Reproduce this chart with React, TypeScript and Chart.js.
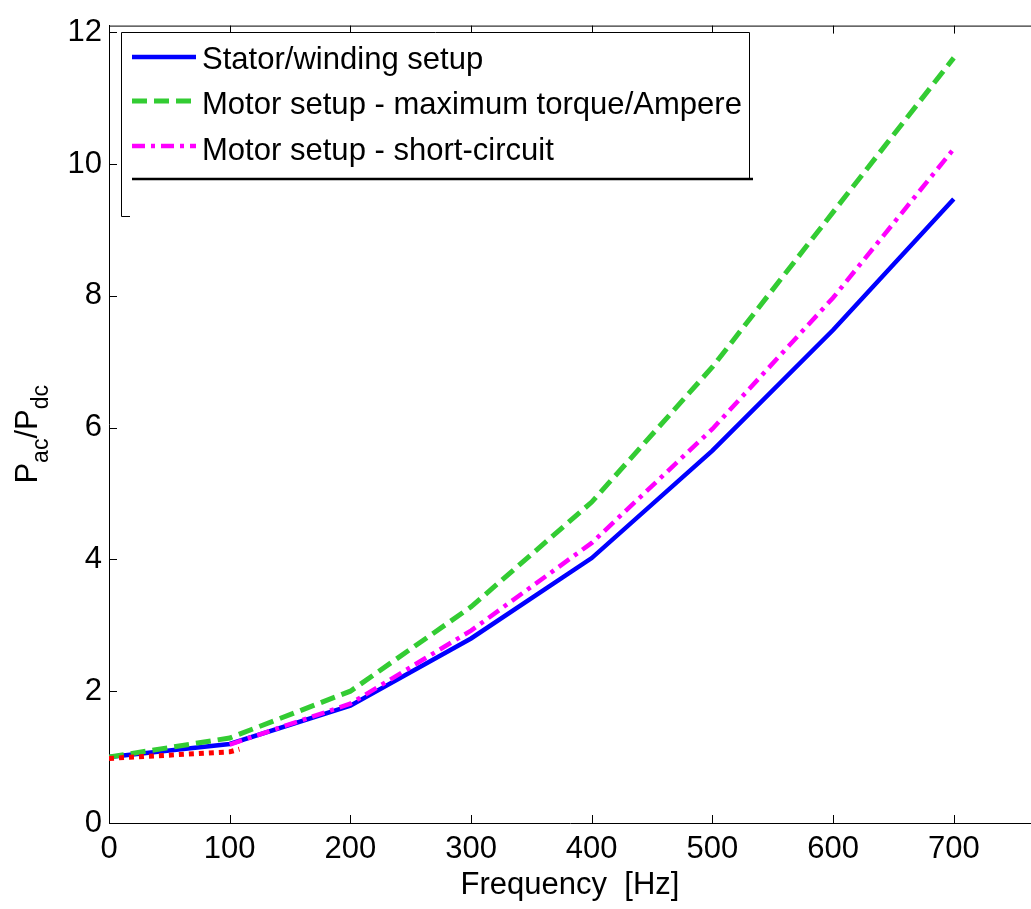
import React, { useEffect, useRef } from "react";
import { Chart, registerables } from "chart.js";

Chart.register(...registerables);

// ---- data ----
const frequencies = [0, 100, 200, 300, 400, 500, 600, 700];
const statorWinding = [1.0, 1.2, 1.78, 2.8, 4.02, 5.65, 7.48, 9.47];
const maxTorquePerAmpere = [1.0, 1.29, 2.0, 3.28, 4.87, 6.92, 9.27, 11.61];
const shortCircuitFreq = [100, 200, 300, 400, 500, 600, 700];
const shortCircuit = [1.19, 1.81, 2.92, 4.25, 5.98, 7.97, 10.23];
const measuredFreq = [0, 100, 108];
const measured = [0.98, 1.08, 1.12];

const xTicks = [0, 100, 200, 300, 400, 500, 600, 700];
const yTicks = [0, 2, 4, 6, 8, 10, 12];
const xRange = [0, 764];
const yRange = [0, 12.1];

const legendLabels = [
  "Stator/winding setup",
  "Motor setup - maximum torque/Ampere",
  "Motor setup - short-circuit",
];
const xTitle = "Frequency  [Hz]";

const FONT = '"Liberation Sans", Arial, sans-serif';

const toPoints = (xs: number[], ys: number[]) => xs.map((x, i) => ({ x, y: ys[i] }));

const boxPlugin = {
  id: "matlabBox",
  afterDraw(chart: any) {
    const { ctx, chartArea, scales } = chart;
    const { left, right, top, bottom } = chartArea;
    const xs = scales.x;
    const ys = scales.y;
    ctx.save();
    ctx.strokeStyle = "#000";
    ctx.lineWidth = 1;
    ctx.beginPath();
    ctx.moveTo(left, top + 0.5);
    ctx.lineTo(right, top + 0.5);
    const tl = 8;
    xTicks.forEach((v) => {
      const px = Math.round(xs.getPixelForValue(v)) + 0.5;
      ctx.moveTo(px, bottom);
      ctx.lineTo(px, bottom - tl);
      ctx.moveTo(px, top);
      ctx.lineTo(px, top + tl);
    });
    yTicks.forEach((v) => {
      const py = Math.round(ys.getPixelForValue(v)) + 0.5;
      ctx.moveTo(left, py);
      ctx.lineTo(left + tl, py);
    });
    ctx.stroke();

    // ---- legend ----
    const lx0 = 121.5, lx1 = 749.5, ly0 = 32.5, ly1 = 179;
    ctx.fillStyle = "#fff";
    ctx.fillRect(lx0, ly0, lx1 - lx0, ly1 - ly0);
    ctx.beginPath();
    ctx.moveTo(lx0, ly0);
    ctx.lineTo(lx1, ly0);
    ctx.lineTo(lx1, ly1);
    ctx.moveTo(lx0, ly0);
    ctx.lineTo(lx0, 216.5);
    ctx.lineTo(130, 216.5);
    ctx.stroke();
    ctx.lineWidth = 2.5;
    ctx.beginPath();
    ctx.moveTo(132, ly1);
    ctx.lineTo(753, ly1);
    ctx.stroke();

    const ds = chart.data.datasets;
    const legendSets = [ds[3], ds[2], ds[1]];
    const rowsY = [57, 101, 146];
    const baseY = [69, 114, 160];
    legendSets.forEach((d: any, i: number) => {
      ctx.save();
      ctx.strokeStyle = d.borderColor;
      ctx.lineWidth = d.borderWidth;
      ctx.setLineDash(d.borderDash || []);
      ctx.lineCap = "butt";
      ctx.beginPath();
      ctx.moveTo(132, rowsY[i]);
      ctx.lineTo(196, rowsY[i]);
      ctx.stroke();
      ctx.restore();
      ctx.save();
      ctx.fillStyle = "#000";
      ctx.font = `32px ${FONT}`;
      ctx.textBaseline = "alphabetic";
      ctx.textAlign = "left";
      ctx.translate(202, baseY[i]);
      ctx.scale(0.97, 1);
      ctx.fillText(legendLabels[i], 0, 0);
      ctx.restore();
    });

    // ---- y-axis title with subscripts ----
    ctx.save();
    ctx.fillStyle = "#000";
    ctx.textBaseline = "alphabetic";
    ctx.textAlign = "left";
    const mainFont = `31px ${FONT}`;
    const subFont = `23px ${FONT}`;
    const parts: [string, boolean][] = [["P", false], ["ac", true], ["/", false], ["P", false], ["dc", true]];
    let total = 0;
    parts.forEach(([t, sub]) => {
      ctx.font = sub ? subFont : mainFont;
      total += ctx.measureText(t).width;
    });
    ctx.translate(37, (top + bottom) / 2 + 10);
    ctx.rotate(-Math.PI / 2);
    let cx = -total / 2;
    parts.forEach(([t, sub]) => {
      ctx.font = sub ? subFont : mainFont;
      ctx.fillText(t, cx, sub ? 11 : 0);
      cx += ctx.measureText(t).width;
    });
    ctx.restore();
    ctx.restore();
  },
};

export default function App() {
  const ref = useRef<HTMLCanvasElement | null>(null);
  useEffect(() => {
    if (!ref.current) return;
    const chart = new Chart(ref.current, {
      type: "line",
      data: {
        datasets: [
          {
            label: "measured",
            data: toPoints(measuredFreq, measured),
            borderColor: "#ff0000",
            borderWidth: 5,
            borderDash: [5, 5],
            pointRadius: 0,
            order: 0,
          },
          {
            label: legendLabels[2],
            data: toPoints(shortCircuitFreq, shortCircuit),
            borderColor: "#ff00ff",
            borderWidth: 4.5,
            borderDash: [13, 6, 4, 6],
            pointRadius: 0,
            order: 1,
          },
          {
            label: legendLabels[1],
            data: toPoints(frequencies, maxTorquePerAmpere),
            borderColor: "#33cc33",
            borderWidth: 5,
            borderDash: [15, 7],
            pointRadius: 0,
            order: 2,
          },
          {
            label: legendLabels[0],
            data: toPoints(frequencies, statorWinding),
            borderColor: "#0000ff",
            borderWidth: 4.5,
            pointRadius: 0,
            order: 3,
          },
        ] as any,
      },
      options: {
        animation: false,
        responsive: false,
        events: [],
        layout: { padding: { top: 18, right: 0, left: 0, bottom: 0 } },
        plugins: { legend: { display: false }, tooltip: { enabled: false } },
        elements: { line: { tension: 0, borderCapStyle: "butt" } },
        scales: {
          x: {
            type: "linear",
            min: xRange[0],
            max: xRange[1],
            grid: { display: false, drawTicks: false },
            border: { display: true, color: "#000", width: 1 },
            afterFit: (s: any) => {
              s.height = 86;
            },
            afterBuildTicks: (s: any) => {
              s.ticks = xTicks.map((v) => ({ value: v }));
            },
            ticks: {
              color: "#000",
              font: { family: FONT, size: 31 },
              padding: 8,
              maxRotation: 0,
              autoSkip: false,
            },
            title: {
              display: true,
              text: xTitle,
              color: "#000",
              font: { family: FONT, size: 31 },
              padding: { top: 0, bottom: 5 },
            },
          },
          y: {
            type: "linear",
            min: yRange[0],
            max: yRange[1],
            grid: { display: false, drawTicks: false },
            border: { display: true, color: "#000", width: 1 },
            afterFit: (s: any) => {
              s.width = 109;
            },
            afterBuildTicks: (s: any) => {
              s.ticks = yTicks.map((v) => ({ value: v }));
            },
            ticks: {
              color: "#000",
              font: { family: FONT, size: 31 },
              padding: 7,
              autoSkip: false,
            },
            title: { display: false },
          },
        },
      } as any,
      plugins: [boxPlugin],
    });
    return () => chart.destroy();
  }, []);

  return (
    <div style={{ position: "absolute", left: 0, top: 0, width: 1031, height: 909, background: "#fff" }}>
      <canvas ref={ref} width={1031} height={909} style={{ display: "block" }} />
    </div>
  );
}
